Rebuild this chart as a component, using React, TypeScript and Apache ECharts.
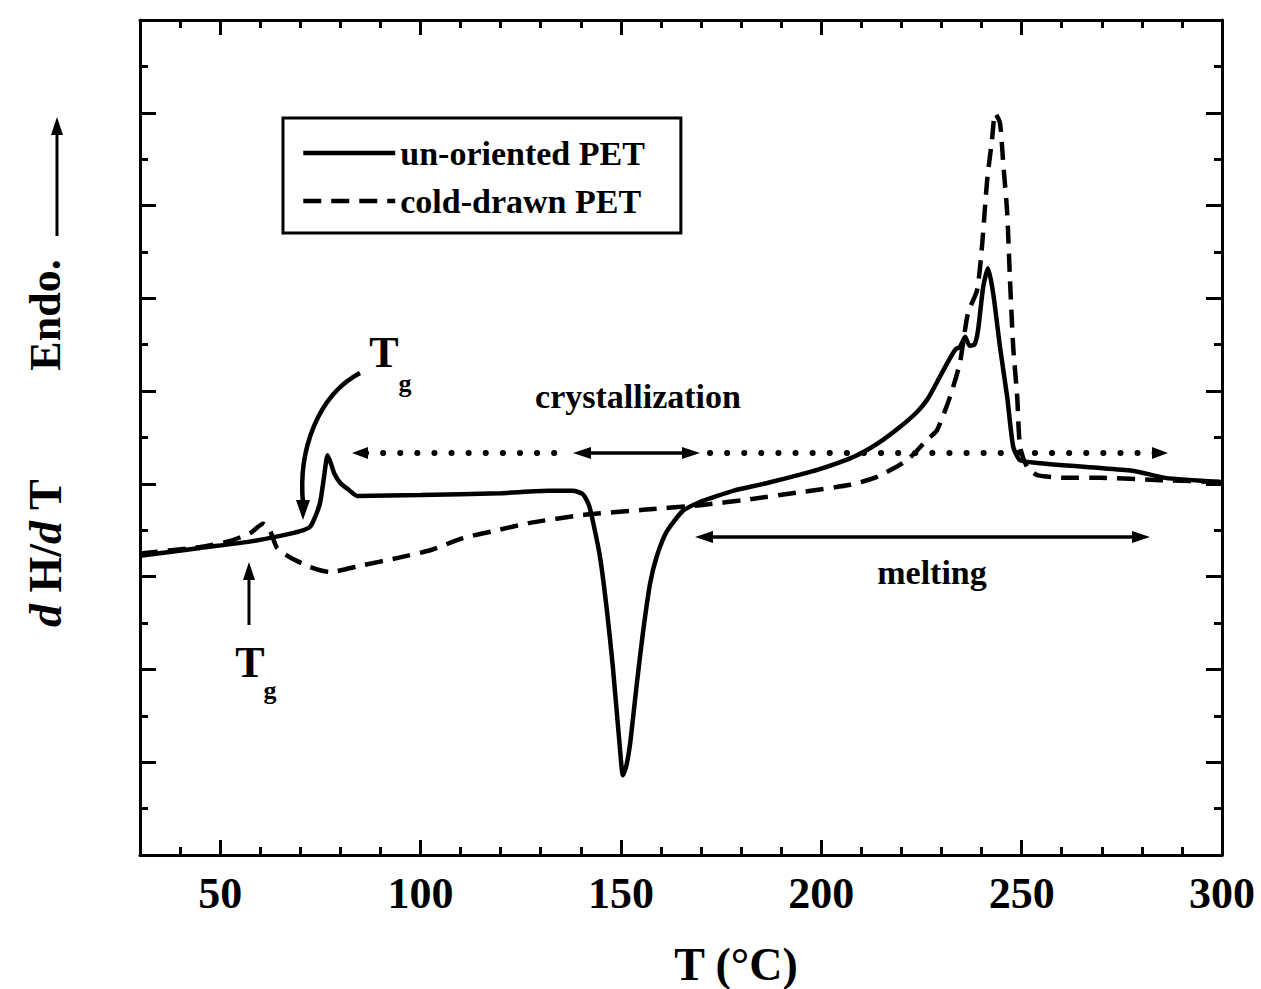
import React, { useEffect, useRef } from 'react';
import * as echarts from 'echarts';

// ---- data (T in °C, dH/dT in arbitrary units; axis 0..18) ----
const seriesNames = ['un-oriented PET', 'cold-drawn PET'];

const solidT = [30, 45, 57, 65, 70, 72.5, 74, 75, 76, 76.8, 77.6, 78.5, 80, 82, 84.2, 100, 120, 132, 138, 140.5, 142, 143.1, 144.8, 146.5, 148, 149.8, 150.5, 151.3, 152.3, 154, 155.5, 157.3, 159, 161.5, 165.5, 170, 174, 178, 186.5, 194.7, 199, 207.2, 211.4, 215.4, 219.7, 223.9, 226.4, 228, 231.4, 233.5, 234.6, 235.9, 237, 238.2, 239.1, 240.4, 241.6, 242.9, 244.6, 246.4, 247.9, 249.6, 253.9, 269.6, 278, 285.8, 300];
const solidV = [6.45, 6.62, 6.75, 6.88, 6.98, 7.08, 7.35, 7.62, 8.2, 8.62, 8.45, 8.22, 8.02, 7.88, 7.74, 7.76, 7.8, 7.85, 7.85, 7.78, 7.55, 7.16, 6.42, 5.28, 4.05, 2.26, 1.72, 1.9, 2.4, 3.71, 4.79, 5.86, 6.45, 6.98, 7.42, 7.62, 7.74, 7.85, 8.02, 8.2, 8.3, 8.55, 8.73, 8.95, 9.23, 9.55, 9.81, 10.05, 10.6, 10.9, 10.95, 11.17, 10.98, 11.0, 11.3, 12.24, 12.65, 12.11, 10.95, 9.87, 8.8, 8.51, 8.45, 8.34, 8.28, 8.13, 8.04];

const dashT = [30, 45, 52.5, 57.5, 60.7, 62.4, 64.2, 67.4, 72.4, 77.4, 85.7, 94.1, 102.4, 110.6, 119.1, 127.3, 140.6, 155.5, 169.8, 182.2, 194.7, 207.2, 213.9, 221.4, 226.4, 228.9, 232.1, 234.6, 236.6, 238.9, 240.1, 241.4, 242.6, 243.4, 244.6, 245.4, 246.4, 247.1, 247.9, 248.9, 249.6, 251.4, 253.9, 261.3, 269.6, 284.6, 300];
const dashV = [6.5, 6.64, 6.77, 6.94, 7.14, 7.0, 6.62, 6.42, 6.21, 6.1, 6.25, 6.4, 6.57, 6.83, 7.0, 7.16, 7.33, 7.44, 7.54, 7.67, 7.82, 7.98, 8.15, 8.51, 8.95, 9.16, 9.87, 10.61, 11.68, 12.18, 13.11, 14.55, 15.41, 15.99, 15.78, 14.92, 13.84, 12.39, 10.95, 9.87, 8.8, 8.36, 8.19, 8.13, 8.13, 8.08, 8.04];

const xMajorTicks = [50, 100, 150, 200, 250, 300];
const xMinorTicks = [40, 60, 70, 80, 90, 110, 120, 130, 140, 160, 170, 180, 190, 210, 220, 230, 240, 260, 270, 280, 290];
const yMajorTicks = [2, 4, 6, 8, 10, 12, 14, 16];
const yMinorTicks = [1, 3, 5, 7, 9, 11, 13, 15, 17];

const FONT = '"Liberation Serif", "Times New Roman", serif';
const BLACK = '#000';

function zip(a: number[], b: number[]) {
  return a.map((v, i) => [v, b[i]]);
}

function xAxisDef(pos: 'top' | 'bottom', ticks: number[], len: number, showLine: boolean, labels: boolean) {
  return {
    type: 'value',
    min: 30,
    max: 300,
    position: pos,
    axisLine: { show: showLine, onZero: false, lineStyle: { color: BLACK, width: 3 } },
    axisTick: { show: true, inside: true, length: len, customValues: ticks, lineStyle: { color: BLACK, width: 3 } },
    axisLabel: labels
      ? { show: true, customValues: xMajorTicks, fontSize: 44, fontWeight: 'bold', fontFamily: FONT, color: BLACK, margin: 16 }
      : { show: false },
    splitLine: { show: false },
  };
}

function yAxisDef(pos: 'left' | 'right', ticks: number[], len: number, showLine: boolean) {
  return {
    type: 'value',
    min: 0,
    max: 18,
    position: pos,
    axisLine: { show: showLine, onZero: false, lineStyle: { color: BLACK, width: 3 } },
    axisTick: { show: true, inside: true, length: len, customValues: ticks, lineStyle: { color: BLACK, width: 3 } },
    axisLabel: { show: false },
    splitLine: { show: false },
  };
}

function arrowHead(tipX: number, tipY: number, dir: 'left' | 'right' | 'up' | 'down', l = 16, w = 6) {
  let pts: number[][];
  if (dir === 'left') pts = [[tipX, tipY], [tipX + l, tipY - w], [tipX + l, tipY + w]];
  else if (dir === 'right') pts = [[tipX, tipY], [tipX - l, tipY - w], [tipX - l, tipY + w]];
  else if (dir === 'up') pts = [[tipX, tipY], [tipX - w, tipY + l], [tipX + w, tipY + l]];
  else pts = [[tipX, tipY], [tipX - w, tipY - l], [tipX + w, tipY - l]];
  return { type: 'polygon', shape: { points: pts }, style: { fill: BLACK }, z: 100 };
}

function hLine(x1: number, x2: number, y: number, width = 3.5, dash?: number[]) {
  return {
    type: 'line',
    shape: { x1, y1: y, x2, y2: y },
    style: { stroke: BLACK, lineWidth: width, lineDash: dash, lineCap: dash ? 'round' : 'butt' },
    z: 100,
  };
}

function txt(x: number, y: number, text: string, size: number, extra: any = {}) {
  return {
    type: 'text',
    x,
    y,
    z: 100,
    style: {
      text,
      fontSize: size,
      fontWeight: 'bold',
      fontFamily: FONT,
      fill: BLACK,
      align: 'center',
      verticalAlign: 'middle',
      ...extra,
    },
  };
}

export default function App() {
  const ref = useRef<HTMLDivElement>(null);

  useEffect(() => {
    if (!ref.current) return;
    const chart = echarts.init(ref.current, null, { renderer: 'svg' });

    const graphic: any[] = [
      // y-axis title (rotated)
      {
        type: 'text',
        x: 45,
        y: 553,
        rotation: Math.PI / 2,
        z: 100,
        style: {
          text: '{i|d} H/{i|d} T',
          fontSize: 46,
          fontWeight: 'bold',
          fontFamily: FONT,
          fill: BLACK,
          align: 'center',
          verticalAlign: 'middle',
          rich: {
            i: { fontSize: 46, fontStyle: 'italic', fontWeight: 'bold', fontFamily: FONT, fill: BLACK },
          },
        },
      },
      { ...txt(45, 315, 'Endo.', 44), rotation: Math.PI / 2 },
      {
        type: 'line',
        shape: { x1: 57, y1: 236, x2: 57, y2: 130 },
        style: { stroke: BLACK, lineWidth: 3 },
        z: 100,
      },
      arrowHead(57, 117, 'up', 18, 6),

      // upper T_g with curved arrow
      txt(384, 352, 'T', 44),
      txt(405, 383, 'g', 26),
      {
        type: 'bezierCurve',
        shape: { x1: 360, y1: 373, cpx1: 318, cpy1: 395, cpx2: 298, cpy2: 450, x2: 303, y2: 503 },
        style: { stroke: BLACK, lineWidth: 4.5, fill: null },
        z: 100,
      },
      arrowHead(303, 520, 'down', 20, 7),

      // lower T_g with arrow
      txt(250, 662, 'T', 44),
      txt(270, 690, 'g', 26),
      {
        type: 'line',
        shape: { x1: 249, y1: 625, x2: 249, y2: 575 },
        style: { stroke: BLACK, lineWidth: 3 },
        z: 100,
      },
      arrowHead(249, 562, 'up', 18, 6),

      // crystallization: dotted line with arrows and central solid double arrow
      hLine(366, 566, 453, 6, [0.1, 17]),
      hLine(710, 1156, 453, 6, [0.1, 17]),
      arrowHead(352, 453, 'left', 16, 6),
      arrowHead(1168, 453, 'right', 16, 6),
      hLine(586, 687, 453, 3.5),
      arrowHead(573, 453, 'left', 18, 6),
      arrowHead(700, 453, 'right', 18, 6),
      txt(638, 396, 'crystallization', 34),

      // melting arrow
      hLine(708, 1137, 537, 3.5),
      arrowHead(695, 537, 'left', 18, 6),
      arrowHead(1150, 537, 'right', 18, 6),
      txt(932, 572, 'melting', 34),

      // x-axis title
      txt(736, 964, 'T (°C)', 46),
    ];

    chart.setOption({
      animation: false,
      backgroundColor: '#fff',
      grid: { left: 140, right: 39, top: 20, bottom: 134, containLabel: false },
      xAxis: [
        xAxisDef('bottom', xMajorTicks, 15, true, true),
        xAxisDef('bottom', xMinorTicks, 8, false, false),
        xAxisDef('top', xMajorTicks, 15, true, false),
        xAxisDef('top', xMinorTicks, 8, false, false),
      ],
      yAxis: [
        yAxisDef('left', yMajorTicks, 16, true),
        yAxisDef('left', yMinorTicks, 8, false),
        yAxisDef('right', yMajorTicks, 16, true),
        yAxisDef('right', yMinorTicks, 8, false),
      ],
      legend: {
        data: seriesNames,
        orient: 'vertical',
        left: 283,
        top: 118,
        itemWidth: 92,
        itemHeight: 20,
        itemGap: 12,
        padding: [17, 36, 14, 18],
        borderColor: BLACK,
        borderWidth: 3,
        borderRadius: 0,
        backgroundColor: '#fff',
        itemStyle: { color: 'rgba(0,0,0,0)', borderWidth: 0, opacity: 0 },
        lineStyle: { width: 4.5 },
        textStyle: { fontSize: 34, fontWeight: 'bold', fontFamily: FONT, color: BLACK, lineHeight: 36 },
      },
      series: [
        {
          name: seriesNames[0],
          type: 'line',
          xAxisIndex: 0,
          yAxisIndex: 0,
          data: zip(solidT, solidV),
          symbol: 'none',
          showSymbol: false,
          smooth: 0.2,
          lineStyle: { color: BLACK, width: 4.5 },
          itemStyle: { color: BLACK },
          z: 5,
        },
        {
          name: seriesNames[1],
          type: 'line',
          xAxisIndex: 0,
          yAxisIndex: 0,
          data: zip(dashT, dashV),
          symbol: 'none',
          showSymbol: false,
          smooth: 0.2,
          lineStyle: { color: BLACK, width: 4.5, type: [18, 10] },
          itemStyle: { color: BLACK },
          z: 4,
        },
      ],
      graphic,
    });

    return () => {
      chart.dispose();
    };
  }, []);

  return (
    <div
      ref={ref}
      style={{ position: 'absolute', left: 0, top: 0, width: 1261, height: 989, background: '#fff' }}
    />
  );
}
